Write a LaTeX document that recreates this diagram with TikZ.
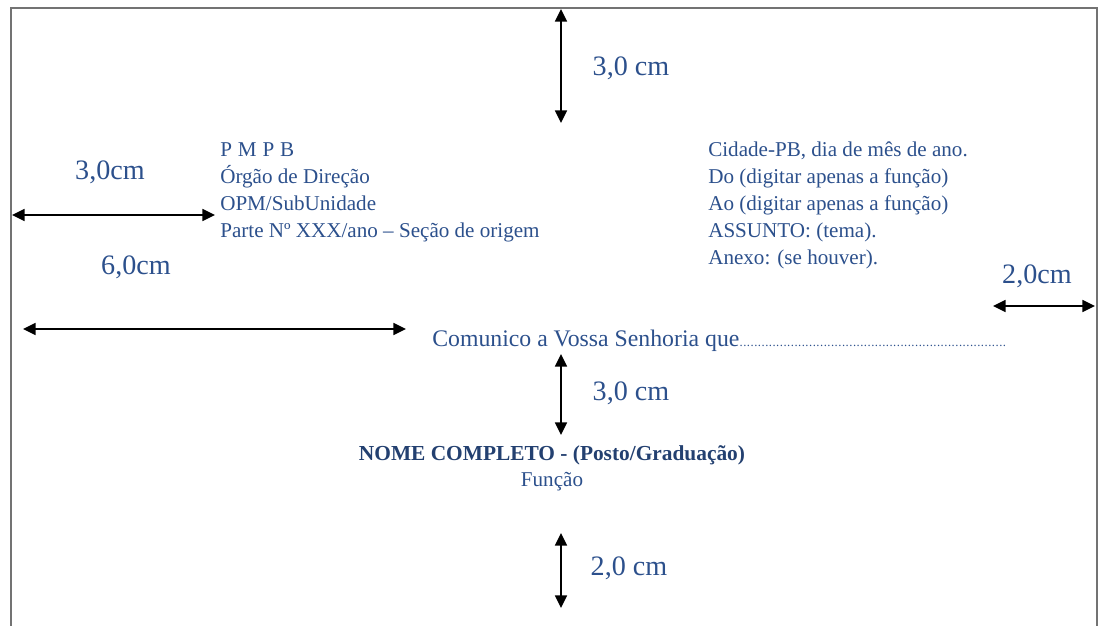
\documentclass[tikz,border=0pt]{standalone}
\usepackage{fontspec}
\setmainfont{Liberation Serif}
\usepackage{xcolor}
\usetikzlibrary{arrows.meta}
\definecolor{txtblue}{RGB}{44,80,140}
\definecolor{framegray}{RGB}{115,115,115}

\begin{document}
\begin{tikzpicture}[x=0.025cm,y=-0.025cm,
  dimarrow/.style={draw=black,line width=1.3pt,
    {Triangle[length=9pt,width=8.5pt]}-{Triangle[length=9pt,width=8.5pt]}},
  dimlabel/.style={text=txtblue,inner sep=0pt,font=\fontsize{20}{24}\selectfont},
  bodytext/.style={text=txtblue,inner sep=0pt,align=left,font=\fontsize{15}{19.2}\selectfont}]
  \useasboundingbox (0,0) rectangle (1101,626);
  \draw[framegray,line width=1.3pt] (11,626) -- (11,8) -- (1097,8) -- (1097,626);
  % margins
  \coordinate (topA) at (561,9);
  \coordinate (topB) at (561,123);
  \coordinate (leftA) at (12,215);
  \coordinate (leftB) at (215,215);
  \coordinate (sixA) at (23,329);
  \coordinate (sixB) at (406,329);
  \coordinate (rightA) at (993,306);
  \coordinate (rightB) at (1095,306);
  \coordinate (midA) at (561,354);
  \coordinate (midB) at (561,435);
  \coordinate (botA) at (561,533);
  \coordinate (botB) at (561,608);
  \draw[dimarrow] (topA) -- (topB);
  \draw[dimarrow] (leftA) -- (leftB);
  \draw[dimarrow] (sixA) -- (sixB);
  \draw[dimarrow] (rightA) -- (rightB);
  \draw[dimarrow] (midA) -- (midB);
  \draw[dimarrow] (botA) -- (botB);
  \node[dimlabel] (lbltop) at (631,68) {3,0 cm};
  \node[dimlabel] (lblleft) at (110,172) {3,0cm};
  \node[dimlabel] (lblsix) at (136,267) {6,0cm};
  \node[dimlabel] (lblright) at (1037,276) {2,0cm};
  \node[dimlabel] (lblmid) at (631,393) {3,0 cm};
  \node[dimlabel] (lblbot) at (629,568) {2,0 cm};
  % header blocks
  \node[bodytext,anchor=north west] (orgao) at (220,142)
    {P\hspace{.28em}M\hspace{.28em}P\hspace{.28em}B\\Órgão de Direção\\OPM/SubUnidade\\Parte Nº XXX/ano – Seção de origem};
  \node[bodytext,anchor=north west] (cidade) at (708,142)
    {Cidade-PB, dia de mês de ano.\\Do (digitar apenas a função)\\Ao (digitar apenas a função)\\ASSUNTO: (tema).\\Anexo: (se houver).};
  % body and signature
  \node[text=txtblue,inner sep=0pt,anchor=base west,font=\fontsize{16.9}{20}\selectfont] (comunico) at (432,346)
    {Comunico a Vossa Senhoria que\makebox[6.7cm]{\fontsize{9}{10}\selectfont\leaders\hbox to 2.6pt{\hss.\hss}\hfill}};
  \node[text=txtblue!80!black,inner sep=0pt,anchor=base,font=\fontsize{15.2}{18}\selectfont\bfseries] (nome) at (552,460)
    {NOME COMPLETO - (Posto/Graduação)};
  \node[text=txtblue,inner sep=0pt,anchor=base,font=\fontsize{15}{18}\selectfont] (funcao) at (552,486) {Função};
\end{tikzpicture}
\end{document}
